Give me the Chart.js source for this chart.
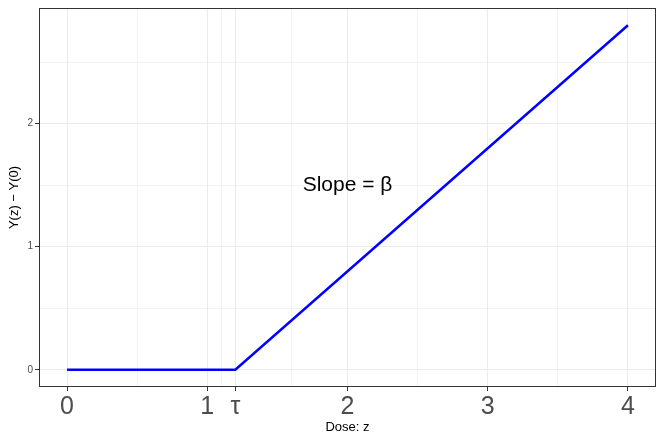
<!DOCTYPE html>
<html>
<head>
<meta charset="utf-8">
<script src="https://cdn.jsdelivr.net/npm/chart.js@4/dist/chart.umd.min.js"></script>
<style>
  html, body { margin: 0; padding: 0; background: #fff; }
  #wrap { width: 664px; height: 443px; }
</style>
</head>
<body>
<div id="wrap"><canvas id="myChart" width="664" height="443"></canvas></div>
<script>
// dose-response: flat until tau, then slope beta
const doseX = [0, 1.2, 4];
const effectY = [0, 0, 2.8];

const xMajorTicks = [0, 1, 1.2, 2, 3, 4];
const xMajorLabels = ['0', '1', 'τ', '2', '3', '4'];
const xMinorTicks = [0.5, 1.1, 1.6, 2.5, 3.5];
const yMajorTicks = [0, 1, 2];
const yMinorTicks = [0.5, 1.5, 2.5];

const slopeLabel = 'Slope = β';
const slopeLabelAt = [2, 1.5];

const gridColor = '#EBEBEB';
const tickColor = '#333333';
const textGrey = '#4D4D4D';

// panel border + annotation text
const panelPlugin = {
  id: 'panel',
  afterDatasetsDraw(chart) {
    const { ctx, chartArea: a, scales } = chart;
    ctx.save();
    ctx.strokeStyle = tickColor;
    ctx.lineWidth = 1;
    ctx.strokeRect(a.left + 0.5, a.top + 0.5, a.right - a.left - 1, a.bottom - a.top - 1);
    ctx.fillStyle = '#000';
    ctx.font = '21px "Liberation Sans", Arial, sans-serif';
    ctx.textAlign = 'center';
    ctx.textBaseline = 'middle';
    ctx.fillText(slopeLabel, scales.x.getPixelForValue(slopeLabelAt[0]), scales.y.getPixelForValue(slopeLabelAt[1]));
    ctx.restore();
  }
};

const isMajor = (list, v) => list.some(t => Math.abs(t - v) < 1e-9);

const ctx = document.getElementById('myChart');
new Chart(ctx, {
  type: 'line',
  data: {
    datasets: [{
      data: doseX.map((x, i) => ({ x: x, y: effectY[i] })),
      borderColor: '#0000FF',
      borderWidth: 2.5,
      pointRadius: 0,
      fill: false,
      tension: 0
    }]
  },
  options: {
    responsive: false,
    animation: false,
    layout: { padding: { left: 0, right: 8, top: 8, bottom: 0 } },
    plugins: { legend: { display: false }, tooltip: { enabled: false } },
    scales: {
      x: {
        type: 'linear',
        min: -0.2,
        max: 4.2,
        afterBuildTicks: s => { s.ticks = xMajorTicks.concat(xMinorTicks).sort((a, b) => a - b).map(v => ({ value: v })); },
        afterFit: s => { s.height = 56; },
        ticks: {
          autoSkip: false,
          maxRotation: 0,
          padding: 1,
          color: textGrey,
          font: { family: '"Liberation Sans", Arial, sans-serif', size: 25 },
          callback: v => isMajor(xMajorTicks, v) ? xMajorLabels[xMajorTicks.findIndex(t => Math.abs(t - v) < 1e-9)] : ''
        },
        grid: {
          color: gridColor,
          lineWidth: c => isMajor(xMajorTicks, c.tick.value) ? 1 : 0.6,
          tickLength: 4,
          tickColor: c => isMajor(xMajorTicks, c.tick.value) ? tickColor : 'rgba(0,0,0,0)'
        },
        border: { display: false },
        title: {
          display: true,
          text: 'Dose: z',
          color: '#000',
          font: { family: '"Liberation Sans", Arial, sans-serif', size: 13 },
          padding: { top: 0, bottom: 8 }
        }
      },
      y: {
        type: 'linear',
        min: -0.14,
        max: 2.94,
        afterBuildTicks: s => { s.ticks = yMajorTicks.concat(yMinorTicks).sort((a, b) => a - b).map(v => ({ value: v })); },
        afterFit: s => { s.width = 39; },
        ticks: {
          autoSkip: false,
          padding: 2,
          color: textGrey,
          font: { family: '"Liberation Sans", Arial, sans-serif', size: 10 },
          callback: v => isMajor(yMajorTicks, v) ? String(v) : ''
        },
        grid: {
          color: gridColor,
          lineWidth: c => isMajor(yMajorTicks, c.tick.value) ? 1 : 0.6,
          tickLength: 4,
          tickColor: c => isMajor(yMajorTicks, c.tick.value) ? tickColor : 'rgba(0,0,0,0)'
        },
        border: { display: false },
        title: {
          display: true,
          text: 'Y(z) − Y(0)',
          color: '#000',
          font: { family: '"Liberation Sans", Arial, sans-serif', size: 13 },
          padding: { top: 7, bottom: 0 }
        }
      }
    }
  },
  plugins: [panelPlugin]
});
</script>
</body>
</html>
